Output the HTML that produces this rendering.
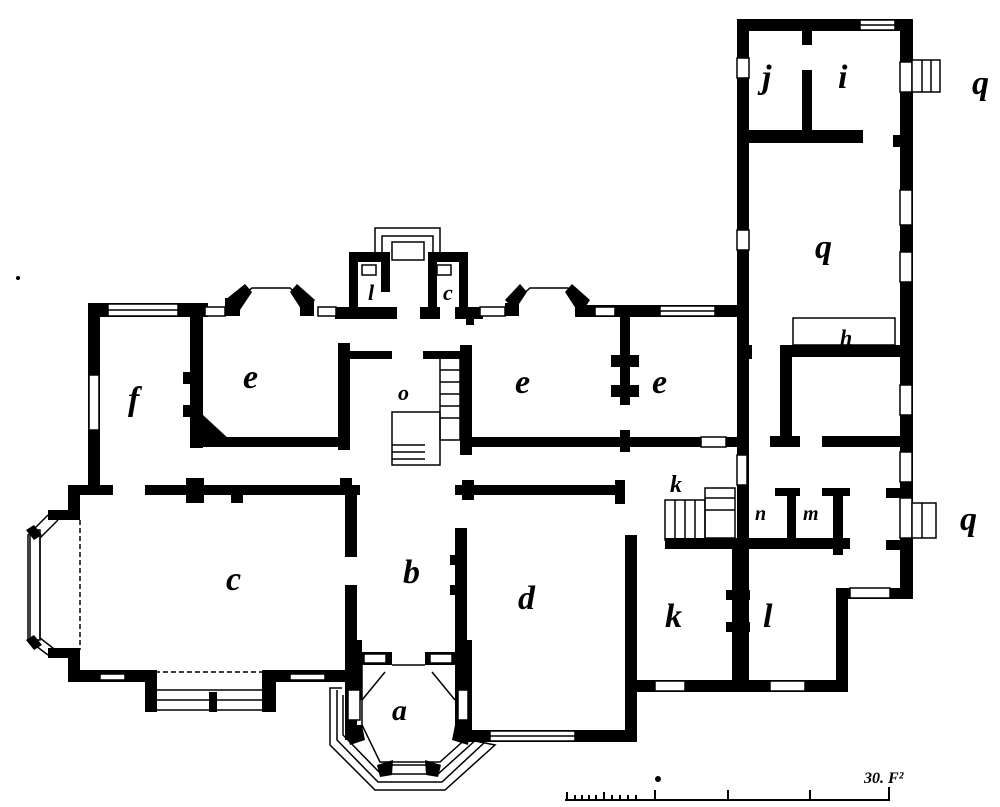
<!DOCTYPE html>
<html><head><style>html,body{margin:0;padding:0;background:#fff}svg{display:block}
text{font-family:"Liberation Serif",serif;font-style:italic;font-weight:bold;fill:#000}</style></head>
<body>
<svg width="1000" height="807" viewBox="0 0 1000 807" xmlns="http://www.w3.org/2000/svg">
<g fill="#000">
<rect x="737" y="19" width="176" height="12"/>
<rect x="737" y="19" width="12" height="672"/>
<rect x="900" y="19" width="13" height="580"/>
<rect x="802" y="31" width="10" height="14"/>
<rect x="802" y="70" width="10" height="70"/>
<rect x="748" y="130" width="115" height="13"/>
<rect x="893" y="135" width="8" height="12"/>
<rect x="780" y="345" width="120" height="12"/>
<rect x="780" y="345" width="12" height="100"/>
<rect x="770" y="436" width="30" height="11"/>
<rect x="822" y="436" width="80" height="11"/>
<rect x="848" y="588" width="65" height="11"/>
<rect x="836" y="588" width="12" height="104"/>
<rect x="744" y="345" width="8" height="14"/>
<rect x="665" y="538" width="185" height="11"/>
<rect x="787" y="490" width="9" height="50"/>
<rect x="775" y="488" width="25" height="8"/>
<rect x="833" y="490" width="10" height="65"/>
<rect x="822" y="488" width="28" height="8"/>
<rect x="886" y="488" width="15" height="10"/>
<rect x="886" y="540" width="15" height="10"/>
<rect x="732" y="540" width="12" height="150"/>
<rect x="726" y="590" width="24" height="10"/>
<rect x="726" y="622" width="24" height="10"/>
<rect x="625" y="680" width="222" height="12"/>
<rect x="625" y="535" width="12" height="207"/>
<rect x="462" y="730" width="175" height="12"/>
<rect x="575" y="305" width="168" height="12"/>
<rect x="620" y="305" width="10" height="100"/>
<rect x="611" y="355" width="28" height="12"/>
<rect x="611" y="385" width="28" height="12"/>
<rect x="462" y="437" width="240" height="10"/>
<rect x="620" y="430" width="10" height="22"/>
<rect x="726" y="437" width="20" height="10"/>
<rect x="455" y="485" width="170" height="10"/>
<rect x="462" y="480" width="12" height="20"/>
<rect x="615" y="480" width="10" height="24"/>
<rect x="338" y="343" width="12" height="107"/>
<rect x="350" y="351" width="42" height="8"/>
<rect x="423" y="351" width="47" height="8"/>
<rect x="460" y="345" width="12" height="110"/>
<rect x="349" y="252" width="9" height="60"/>
<rect x="349" y="252" width="40" height="10"/>
<rect x="381" y="252" width="9" height="40"/>
<rect x="428" y="252" width="40" height="10"/>
<rect x="428" y="252" width="9" height="60"/>
<rect x="459" y="252" width="9" height="60"/>
<rect x="335" y="307" width="62" height="12"/>
<rect x="420" y="307" width="20" height="12"/>
<rect x="455" y="307" width="28" height="12"/>
<rect x="466" y="307" width="8" height="18"/>
<rect x="225" y="298" width="15" height="18"/>
<polygon points="225,300 245,284 252,292 240,310"/>
<polygon points="290,292 297,284 315,300 305,315"/>
<rect x="300" y="302" width="14" height="14"/>
<polygon points="505,300 520,284 527,292 515,310"/>
<polygon points="565,292 572,284 590,300 580,315"/>
<rect x="505" y="303" width="14" height="13"/>
<rect x="88" y="303" width="120" height="14"/>
<rect x="88" y="303" width="12" height="190"/>
<rect x="190" y="303" width="13" height="145"/>
<rect x="183" y="372" width="10" height="12"/>
<rect x="183" y="405" width="10" height="12"/>
<polygon points="203,415 230,440 203,447"/>
<rect x="190" y="437" width="158" height="10"/>
<rect x="68" y="485" width="45" height="10"/>
<rect x="145" y="485" width="215" height="10"/>
<rect x="186" y="478" width="18" height="25"/>
<rect x="231" y="485" width="12" height="18"/>
<rect x="340" y="478" width="12" height="17"/>
<rect x="345" y="485" width="12" height="72"/>
<rect x="345" y="585" width="12" height="155"/>
<rect x="68" y="485" width="12" height="35"/>
<rect x="48" y="510" width="32" height="10"/>
<rect x="48" y="648" width="32" height="10"/>
<rect x="68" y="648" width="12" height="32"/>
<rect x="68" y="670" width="80" height="12"/>
<rect x="145" y="670" width="12" height="42"/>
<rect x="262" y="670" width="14" height="42"/>
<rect x="262" y="670" width="88" height="12"/>
<rect x="209" y="692" width="8" height="20"/>
<rect x="455" y="528" width="12" height="212"/>
<rect x="450" y="555" width="10" height="10"/>
<rect x="450" y="585" width="10" height="10"/>
<rect x="345" y="640" width="17" height="60"/>
<rect x="455" y="640" width="17" height="100"/>
<rect x="362" y="652" width="30" height="13"/>
<rect x="425" y="652" width="30" height="13"/>
<polygon points="345,725 362,725 365,740 350,745"/>
<polygon points="377,765 393,760 392,775 380,777"/>
<polygon points="425,760 441,765 438,777 426,775"/>
<polygon points="455,725 470,730 468,745 452,740"/>
<polygon points="26,530 34,525 42,535 34,540"/>
<polygon points="26,640 34,635 42,645 34,650"/>
</g>
<g fill="#fff" stroke="#000" stroke-width="1.5">
<rect x="860" y="20" width="35" height="10"/>
<rect x="108" y="304" width="70" height="12"/>
<rect x="89" y="375" width="10" height="55"/>
<rect x="900" y="62" width="12" height="30"/>
<rect x="912" y="60" width="28" height="32"/>
<rect x="900" y="498" width="12" height="40"/>
<rect x="912" y="503" width="24" height="35"/>
<rect x="900" y="190" width="12" height="35"/>
<rect x="900" y="252" width="12" height="30"/>
<rect x="900" y="385" width="12" height="30"/>
<rect x="900" y="452" width="12" height="30"/>
<rect x="737" y="58" width="12" height="20"/>
<rect x="737" y="230" width="12" height="20"/>
<rect x="737" y="455" width="10" height="30"/>
<rect x="850" y="588" width="40" height="10"/>
<rect x="655" y="681" width="30" height="10"/>
<rect x="770" y="681" width="35" height="10"/>
<rect x="490" y="731" width="85" height="10"/>
<rect x="660" y="306" width="55" height="10"/>
<rect x="595" y="307" width="20" height="9"/>
<rect x="480" y="307" width="25" height="9"/>
<rect x="318" y="307" width="18" height="9"/>
<rect x="205" y="307" width="20" height="9"/>
<rect x="100" y="674" width="25" height="6"/>
<rect x="290" y="674" width="35" height="6"/>
<rect x="701" y="437" width="25" height="10"/>
<rect x="364" y="654" width="22" height="9"/>
<rect x="430" y="654" width="22" height="9"/>
<rect x="348" y="690" width="12" height="30"/>
<rect x="458" y="690" width="10" height="30"/>
</g>
<g fill="none" stroke="#000" stroke-width="1.5">
<line x1="860" y1="25" x2="895" y2="25"/>
<line x1="108" y1="310" x2="178" y2="310"/>
<line x1="660" y1="311" x2="715" y2="311"/>
<line x1="490" y1="736" x2="575" y2="736"/>
<line x1="922" y1="60" x2="922" y2="92"/><line x1="931" y1="60" x2="931" y2="92"/>
<line x1="922" y1="503" x2="922" y2="538"/>
<rect x="793" y="318" width="102" height="27"/>
<rect x="155" y="690" width="110" height="20"/>
<line x1="155" y1="700" x2="265" y2="700"/>
<rect x="30" y="530" width="10" height="110"/>
<polyline points="48,515 28,535 28,640 48,655"/>
<polyline points="58,520 40,538 40,638 58,652"/>
<polyline points="240,297 252,288 290,288 300,297"/>
<polyline points="520,297 530,288 568,288 578,297"/>
<rect x="665" y="500" width="40" height="40"/>
<rect x="705" y="488" width="30" height="50"/>
<line x1="675" y1="500" x2="675" y2="538"/><line x1="685" y1="500" x2="685" y2="538"/><line x1="695" y1="500" x2="695" y2="538"/>
<line x1="705" y1="498" x2="735" y2="498"/><line x1="705" y1="510" x2="735" y2="510"/>
<rect x="440" y="358" width="20" height="82"/>
<rect x="392" y="412" width="48" height="53"/>
<line x1="440" y1="370" x2="460" y2="370"/><line x1="440" y1="382" x2="460" y2="382"/><line x1="440" y1="394" x2="460" y2="394"/><line x1="440" y1="406" x2="460" y2="406"/><line x1="440" y1="418" x2="460" y2="418"/>
<line x1="392" y1="445" x2="425" y2="445"/><line x1="392" y1="452" x2="425" y2="452"/><line x1="392" y1="459" x2="425" y2="459"/>
<polyline points="375,252 375,228 440,228 440,252"/>
<polyline points="382,252 382,236 433,236 433,252"/>
<rect x="392" y="242" width="32" height="18"/>
<rect x="362" y="265" width="14" height="10"/><rect x="437" y="265" width="14" height="10"/>
<polyline points="362,665 362,725 380,762 440,762 470,735"/>
<line x1="392" y1="665" x2="425" y2="665"/>
<line x1="362" y1="700" x2="385" y2="672"/><line x1="455" y1="700" x2="432" y2="672"/>
<polyline points="342,688 330,688 330,745 375,790 445,790 495,745 470,740"/>
<polyline points="337,690 337,740 378,782 442,782 485,742"/>
<polyline points="343,695 343,735 381,774 438,774 478,738"/>
<line x1="380" y1="765" x2="440" y2="765"/>
</g>
<g fill="none" stroke="#000" stroke-width="1.5" stroke-dasharray="5,3">
<line x1="80" y1="520" x2="80" y2="650"/>
<line x1="155" y1="672" x2="262" y2="672"/>
</g>
<g stroke="#000" stroke-width="2" fill="none">
<line x1="565" y1="800" x2="890" y2="800"/>
<line x1="567" y1="792" x2="567" y2="800"/><line x1="575" y1="795" x2="575" y2="800"/><line x1="582" y1="795" x2="582" y2="800"/><line x1="589" y1="795" x2="589" y2="800"/><line x1="596" y1="795" x2="596" y2="800"/><line x1="604" y1="792" x2="604" y2="800"/><line x1="612" y1="795" x2="612" y2="800"/><line x1="620" y1="795" x2="620" y2="800"/><line x1="628" y1="795" x2="628" y2="800"/><line x1="636" y1="795" x2="636" y2="800"/><line x1="655" y1="790" x2="655" y2="800"/>
<line x1="728" y1="790" x2="728" y2="800"/><line x1="810" y1="790" x2="810" y2="800"/><line x1="889" y1="787" x2="889" y2="800"/>
</g>
<circle cx="658" cy="779" r="3"/>
<text x="864" y="783" font-size="16" font-style="normal">30. F²</text>
<g font-size="34">
<text x="762" y="88">j</text><text x="838" y="88">i</text>
<text x="972" y="94">q</text><text x="815" y="258">q</text>
<text x="840" y="345" font-size="22">h</text>
<text x="128" y="410">f</text><text x="243" y="388">e</text><text x="515" y="393">e</text><text x="652" y="393">e</text>
<text x="398" y="400" font-size="22">o</text>
<text x="368" y="300" font-size="22">l</text><text x="443" y="300" font-size="22">c</text>
<text x="670" y="492" font-size="24">k</text>
<text x="755" y="520" font-size="20">n</text><text x="803" y="520" font-size="20">m</text>
<text x="960" y="530">q</text>
<text x="226" y="590">c</text><text x="403" y="583">b</text><text x="518" y="609">d</text>
<text x="665" y="627">k</text><text x="763" y="627">l</text>
<text x="392" y="720" font-size="30">a</text>
</g>
<circle cx="18" cy="278" r="2"/>
</svg>
</body></html>
